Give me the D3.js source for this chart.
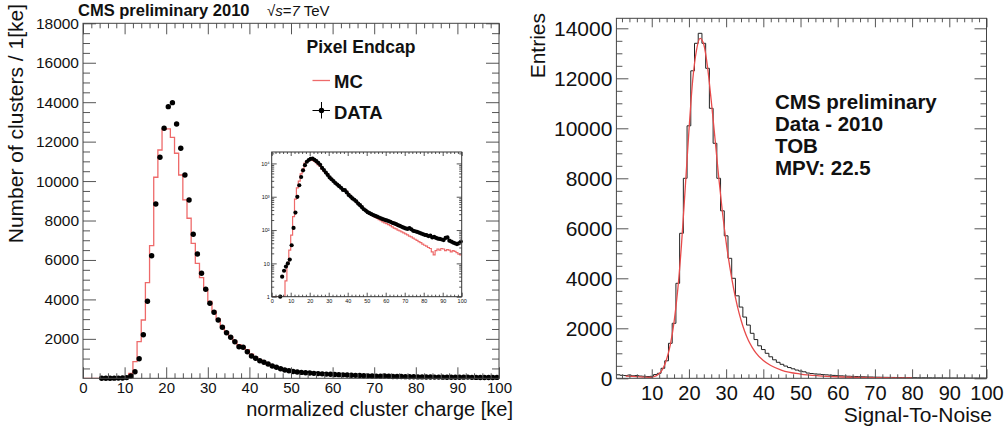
<!DOCTYPE html>
<html><head><meta charset="utf-8">
<script src="https://cdn.jsdelivr.net/npm/d3@7"></script>
<style>
body{margin:0;background:#fff}
svg{display:block}
text{font-family:"Liberation Sans",Arial,Helvetica,sans-serif;fill:#111}
</style>
</head><body>
<svg id="c" width="1008" height="430"></svg>
<script>
// ---------- DATA ----------
// Left: Pixel Endcap, 1 ke bins [k,k+1], k = 0..99
const mcCounts = [0,0,0,0,0,0,1,3,10,25,
 70,254,842,1856,2956,4848,6725,10193,11577,12627,
 12650,12221,11410,10309,9042,8114,6846,5832,5100,4500,
 3900,3400,3000,2650,2350,2100,1880,1700,1600,1450,
 1230,1070,930,820,720,640,570,500,440,390,
 340,305,280,258,240,222,205,190,175,165,
 155,145,135,125,115,108,100,94,88,82,
 77,72,66,62,57,53,49,45,42,38,
 35,33,30,28,22,18,24,27,25,28,
 27,24,26,25,22,24,23,21,19,18];
const dataFirstBin = 4;
const dataCounts = [1,4,6,8,10,13,35,116,335,994,
 2211,3905,6217,8838,11207,12677,13773,13977,12896,11663,
 10310,9042,7302,6303,5324,4513,3803,3347,2956,2586,
 2312,2079,1856,1602,1572,1349,1131,1014,892,811,
 725,624,558,487,421,385,345,320,300,282,
 265,252,238,225,212,203,195,186,176,165,
 158,150,140,133,125,118,112,108,115,105,
 95,92,88,84,80,76,72,70,66,68,
 60,62,58,55,54,52,50,58,60,48,
 45,42,40,38,40,45];
// Right: TOB Signal-To-Noise, bins centred at 1..100
const snCounts = [140,120,110,130,100,110,90,80,70,80,
 150,200,400,700,1400,2200,3800,5800,8000,10100,
 12300,13400,13800,13400,12400,10800,9400,8000,6700,5700,
 4800,4000,3300,2850,2450,2130,1800,1550,1300,1150,
 1000,860,740,640,560,490,430,380,330,290,
 260,210,190,175,165,150,138,126,116,106,
 98,90,83,76,70,65,60,55,51,47,
 44,41,38,36,34,32,30,28,26,24,
 23,21,20,19,18,17,16,15,14,13,
 13,12,12,11,11,10,10,9,9,8];
const fitX = [3,6,8,10,11,12,13,14,15,16,17,18,19,20,21,22,23,24,25,26,27,28,29,30,31,32,33,34,35,36,37,38,40,42,45,50,55,60,65,70,75,80];
const fitY = [90,70,50,40,90,180,380,760,1350,2250,3550,5350,7600,9900,11900,13100,13600,13350,12450,11100,9600,8050,6650,5450,4450,3600,2900,2330,1870,1510,1240,1020,710,510,320,170,100,62,40,27,18,12];

const leftYTicks = [2000,4000,6000,8000,10000,12000,14000,16000,18000];
const leftXTicks = [0,10,20,30,40,50,60,70,80,90,100];
const rightYTicks = [0,2000,4000,6000,8000,10000,12000,14000];
const rightXTicks = [10,20,30,40,50,60,70,80,90,100];
const insetYTicks = [1,10,100,1000,10000];
const insetYLabels = ["1","10","10\u00B2","10\u00B3","10\u2074"];
const insetXTicks = [0,10,20,30,40,50,60,70,80,90,100];
const rightTextLines = ["CMS preliminary","Data - 2010","TOB","MPV: 22.5"];

// ---------- DRAW ----------
const svg = d3.select("#c");
const TICK = "#555";
const RED = "#ee6a6a";

function styleAxis(g, fs){
  g.select(".domain").remove();
  g.selectAll(".tick line").attr("stroke", TICK);
  g.selectAll(".tick text").attr("font-size", fs).attr("font-family", null).attr("fill","#111");
  g.attr("font-family", null);
}
function minorOf(lo, hi, step, majorStep){
  return d3.range(lo, hi + 1e-9, step).filter(v => Math.abs(v/majorStep - Math.round(v/majorStep)) > 1e-6);
}
function frame(g, x, y, o){
  const [x0,x1] = x.range(), [y0,y1] = y.range();
  g.append("g").attr("transform",`translate(0,${y0})`)
   .call(d3.axisBottom(x).tickValues(o.xMajor).tickSize(-o.xMajLen).tickPadding(o.xPad).tickFormat(o.xFmt))
   .call(a=>styleAxis(a,o.xFs));
  g.append("g").attr("transform",`translate(0,${y0})`)
   .call(d3.axisBottom(x).tickValues(o.xMinor).tickSize(-o.xMinLen).tickFormat(""))
   .call(a=>styleAxis(a,o.xFs));
  g.append("g").attr("transform",`translate(0,${y1})`)
   .call(d3.axisTop(x).tickValues(o.xMajor).tickSize(-o.xMajLen).tickFormat(""))
   .call(a=>styleAxis(a,o.xFs));
  g.append("g").attr("transform",`translate(0,${y1})`)
   .call(d3.axisTop(x).tickValues(o.xMinor).tickSize(-o.xMinLen).tickFormat(""))
   .call(a=>styleAxis(a,o.xFs));
  g.append("g").attr("transform",`translate(${x0},0)`)
   .call(d3.axisLeft(y).tickValues(o.yMajor).tickSize(-o.yMajLen).tickPadding(o.yPad).tickFormat(o.yFmt))
   .call(a=>styleAxis(a,o.yFs));
  g.append("g").attr("transform",`translate(${x0},0)`)
   .call(d3.axisLeft(y).tickValues(o.yMinor).tickSize(-o.yMinLen).tickFormat(""))
   .call(a=>styleAxis(a,o.yFs));
  g.append("g").attr("transform",`translate(${x1},0)`)
   .call(d3.axisRight(y).tickValues(o.yMajor).tickSize(-o.yMajLen).tickFormat(""))
   .call(a=>styleAxis(a,o.yFs));
  g.append("g").attr("transform",`translate(${x1},0)`)
   .call(d3.axisRight(y).tickValues(o.yMinor).tickSize(-o.yMinLen).tickFormat(""))
   .call(a=>styleAxis(a,o.yFs));
  g.append("rect").attr("x",x0).attr("y",y1).attr("width",x1-x0).attr("height",y0-y1)
   .attr("fill","none").attr("stroke",o.frameColor||"#444").attr("stroke-width",1);
}
function clip(id, x, y){
  const [x0,x1]=x.range(),[y0,y1]=y.range();
  svg.append("clipPath").attr("id",id).append("rect")
    .attr("x",x0).attr("y",y1-1).attr("width",x1-x0).attr("height",y0-y1+1);
}

// ===== LEFT PANEL =====
const xL = d3.scaleLinear().domain([0,100]).range([83,499]);
const yL = d3.scaleLinear().domain([0,18000]).range([378.3,23.3]);
const gL = svg.append("g");
clip("clipL", xL, yL);

const mcPts = mcCounts.map((v,k)=>[k,v]).concat([[mcCounts.length, mcCounts[mcCounts.length-1]]]);
gL.append("path").attr("clip-path","url(#clipL)")
  .attr("d", d3.line().x(d=>xL(d[0])).y(d=>yL(d[1])).curve(d3.curveStepAfter)(mcPts))
  .attr("fill","none").attr("stroke",RED).attr("stroke-width",1.3);

gL.append("g").selectAll("circle").data(dataCounts).join("circle")
  .attr("cx",(v,i)=>xL(dataFirstBin+i+0.5)).attr("cy",v=>yL(v)).attr("r",2.7).attr("fill","#000");

frame(gL, xL, yL, {
  xMajor:leftXTicks, xMinor:minorOf(0,100,2,10), xMajLen:11, xMinLen:5, xPad:4, xFs:"15px", xFmt:d3.format("d"),
  yMajor:leftYTicks, yMinor:minorOf(500,18000,500,2000), yMajLen:13, yMinLen:7, yPad:4, yFs:"15.5px", yFmt:d3.format("d")
});

svg.append("text").attr("x",513).attr("y",416).attr("text-anchor","end").attr("font-size","20px")
  .text("normalized cluster charge [ke]");
svg.append("text").attr("transform","translate(23,4) rotate(-90)").attr("text-anchor","end").attr("font-size","21px")
  .text("Number of clusters / 1[ke]");

svg.append("text").attr("x",78).attr("y",16).attr("font-size","16.5px").attr("font-weight","bold")
  .text("CMS preliminary 2010");
const sq = svg.append("text").attr("x",267).attr("y",16).attr("font-size","15px");
sq.append("tspan").text("\u221A");
sq.append("tspan").attr("font-style","italic").text("s");
sq.append("tspan").text("=");
sq.append("tspan").attr("font-style","italic").text("7");
sq.append("tspan").text(" TeV");

// legend
svg.append("text").attr("x",306.5).attr("y",53).attr("font-size","17.5px").attr("font-weight","bold").text("Pixel Endcap");
svg.append("line").attr("x1",312.5).attr("x2",330).attr("y1",80.5).attr("y2",80.5).attr("stroke",RED).attr("stroke-width",1.3);
svg.append("text").attr("x",334).attr("y",87.5).attr("font-size","18.5px").attr("font-weight","bold").text("MC");
svg.append("line").attr("x1",312.5).attr("x2",330).attr("y1",110.5).attr("y2",110.5).attr("stroke","#000").attr("stroke-width",1);
svg.append("line").attr("x1",321.5).attr("x2",321.5).attr("y1",102).attr("y2",118.5).attr("stroke","#000").attr("stroke-width",1);
svg.append("circle").attr("cx",321.5).attr("cy",110.5).attr("r",2.7).attr("fill","#000");
svg.append("text").attr("x",334).attr("y",118.5).attr("font-size","18.5px").attr("font-weight","bold").text("DATA");

// ===== INSET (log) =====
const xI = d3.scaleLinear().domain([0,100]).range([271.7,461.7]);
const yI = d3.scaleLog().domain([1,22000]).range([296.7,152]).clamp(true);
const gI = svg.append("g");
gI.append("rect").attr("x",271.7).attr("y",152).attr("width",190).attr("height",144.7).attr("fill","#fff");
clip("clipI", xI, yI);
gI.append("path").attr("clip-path","url(#clipI)")
  .attr("d", d3.line().x(d=>xI(d[0])).y(d=>yI(Math.max(d[1],1))).curve(d3.curveStepAfter)(mcPts))
  .attr("fill","none").attr("stroke",RED).attr("stroke-width",1.2);
gI.append("g").selectAll("circle").data(dataCounts).join("circle")
  .attr("cx",(v,i)=>xI(dataFirstBin+i+0.5)).attr("cy",v=>yI(Math.max(v,1))).attr("r",2.1).attr("fill","#000");
const logMinor = [];
[1,10,100,1000,10000].forEach(d=>{ for(let m=2;m<=9;m++){ if(m*d<=22000) logMinor.push(m*d);} });
frame(gI, xI, yI, {
  xMajor:insetXTicks, xMinor:minorOf(0,100,2,10), xMajLen:4, xMinLen:2, xPad:2, xFs:"5.5px", xFmt:d3.format("d"),
  yMajor:insetYTicks, yMinor:logMinor, yMajLen:5, yMinLen:2.5, yPad:2, yFs:"5.5px", yFmt:(d,i)=>insetYLabels[i],
  frameColor:"#333"
});

// ===== RIGHT PANEL =====
const xR = d3.scaleLinear().domain([0.5,100]).range([616.4,986.5]);
const yR = d3.scaleLinear().domain([0,14400]).range([378.3,18.3]);
const gR = svg.append("g");
clip("clipR", xR, yR);
const snPts = snCounts.map((v,i)=>[i+0.5, v]).concat([[snCounts.length+0.5, snCounts[snCounts.length-1]]]);
gR.append("path").attr("clip-path","url(#clipR)")
  .attr("d", d3.line().x(d=>xR(d[0])).y(d=>yR(d[1])).curve(d3.curveStepAfter)(snPts))
  .attr("fill","none").attr("stroke","#222").attr("stroke-width",1);
gR.append("path").attr("clip-path","url(#clipR)")
  .attr("d", d3.line().x((d,i)=>xR(fitX[i])).y((d,i)=>yR(fitY[i])).curve(d3.curveMonotoneX)(fitX))
  .attr("fill","none").attr("stroke","#e84a4a").attr("stroke-width",1.3);

frame(gR, xR, yR, {
  xMajor:rightXTicks, xMinor:minorOf(2,100,2,10), xMajLen:9, xMinLen:4, xPad:8, xFs:"20px", xFmt:d3.format("d"),
  yMajor:rightYTicks, yMinor:minorOf(500,14400,500,2000), yMajLen:12, yMinLen:6, yPad:4, yFs:"21px", yFmt:d3.format("d")
});

svg.append("text").attr("x",992).attr("y",421.5).attr("text-anchor","end").attr("font-size","21px").text("Signal-To-Noise");
svg.append("text").attr("transform","translate(545,13) rotate(-90)").attr("text-anchor","end").attr("font-size","21px").text("Entries");

svg.append("g").selectAll("text").data(rightTextLines).join("text")
  .attr("x",775).attr("y",(d,i)=>108.5+i*22.3).attr("font-size","20.5px").attr("font-weight","bold").text(d=>d);
</script>
</body></html>
